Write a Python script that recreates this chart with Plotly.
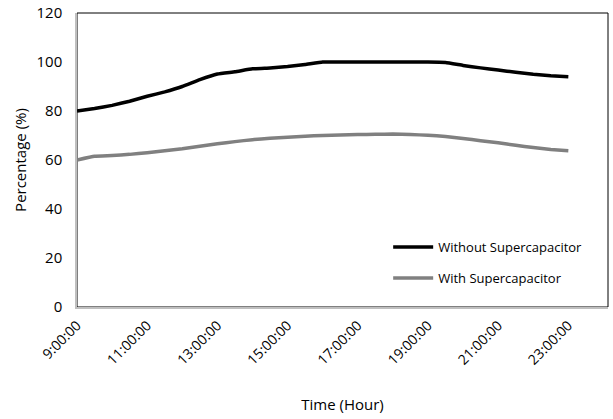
import plotly.graph_objects as go

hours = [9, 9.5, 10, 10.5, 11, 11.5, 12, 12.5, 13, 13.5, 14, 14.5, 15, 15.5, 16,
         16.5, 17, 17.5, 18, 18.5, 19, 19.5, 20, 20.5, 21, 21.5, 22, 22.5, 23]
without_sc = [80, 81, 82.3, 84, 86, 87.8, 90, 92.8, 95.1, 96, 97.2, 97.6, 98.2, 99, 100,
              100, 100, 100, 100, 100, 100, 99.8, 98.6, 97.6, 96.7, 95.8, 95.0, 94.4, 94.0]
with_sc = [60, 61.5, 61.8, 62.3, 63.0, 63.8, 64.6, 65.6, 66.6, 67.5, 68.3, 68.9, 69.3, 69.7, 70.0,
           70.2, 70.4, 70.5, 70.6, 70.4, 70.1, 69.6, 68.8, 67.9, 67.0, 66.0, 65.1, 64.3, 63.8]
tick_hours = [9, 11, 13, 15, 17, 19, 21, 23]
tick_labels = ["9:00:00", "11:00:00", "13:00:00", "15:00:00", "17:00:00", "19:00:00", "21:00:00", "23:00:00"]
y_ticks = [0, 20, 40, 60, 80, 100, 120]

FONT = "Open Sans"

fig = go.Figure()
fig.add_trace(go.Scatter(x=hours, y=without_sc, mode="lines", name="Without Supercapacitor",
                         line=dict(color="#000000", width=3.5, shape="spline", smoothing=0.3),
                         legendgroup="a"))
fig.add_trace(go.Scatter(x=hours, y=with_sc, mode="lines", name="With Supercapacitor",
                         line=dict(color="#808080", width=3.5, shape="spline", smoothing=0.3),
                         legendgroup="b"))

fig.add_shape(type="rect", xref="paper", yref="paper", x0=0, y0=0, x1=1, y1=1,
              line=dict(color="#000000", width=1), layer="below")

fig.update_layout(
    width=613, height=419,
    margin=dict(l=77, r=5, t=13, b=112, autoexpand=False),
    paper_bgcolor="white", plot_bgcolor="white",
    font=dict(family=FONT, size=13, color="#000000"),
    showlegend=True,
    legend=dict(x=0.586, y=0.255, xanchor="left", yanchor="top",
                bgcolor="rgba(0,0,0,0)", font=dict(family=FONT, size=13, color="#000000"),
                traceorder="grouped", tracegroupgap=11, itemwidth=40),
    xaxis=dict(range=[9, 24.13], tickmode="array", tickvals=tick_hours, ticktext=tick_labels,
               tickangle=-45, showgrid=False, zeroline=False, automargin=False,
               showline=True, linecolor="#bfbfbf", linewidth=1.5,
               ticks="outside", ticklen=3, tickcolor="rgba(0,0,0,0)",
               tickfont=dict(family=FONT, size=14),
               title=dict(text="Time (Hour)", font=dict(family=FONT, size=15), standoff=32)),
    yaxis=dict(range=[0, 120], tickmode="array", tickvals=y_ticks, showgrid=False, zeroline=False,
               automargin=False,
               showline=True, linecolor="#bfbfbf", linewidth=1.5,
               ticks="outside", ticklen=10, tickcolor="rgba(0,0,0,0)",
               tickfont=dict(family=FONT, size=15),
               title=dict(text="Percentage (%)", font=dict(family=FONT, size=15), standoff=6)),
)

fig.write_html("out.html")
